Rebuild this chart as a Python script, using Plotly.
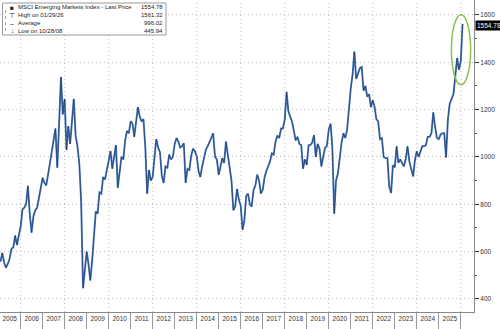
import pandas as pd
import plotly.graph_objects as go

# MSCI Emerging Markets Index, monthly closes (Jan 2005 - Dec 2025)
y2005 = [558, 595, 555, 532, 548, 570, 612, 618, 668, 628, 668, 706]
y2006 = [780, 785, 800, 878, 760, 680, 750, 775, 785, 830, 870, 912]
y2007 = [890, 880, 925, 975, 1015, 1060, 1120, 955, 1180, 1338, 1180, 1245]
y2008 = [1030, 1130, 1055, 1170, 1245, 1090, 1045, 970, 810, 445.94, 540, 600]
y2009 = [545, 478, 560, 650, 770, 760, 850, 845, 915, 905, 950, 990]
y2010 = [1025, 950, 1010, 1050, 870, 950, 1000, 990, 1070, 1110, 1100, 1151]
y2011 = [1140, 1085, 1160, 1210, 1170, 1150, 1160, 1040, 845, 945, 900, 916]
y2012 = [1000, 1075, 1040, 1020, 920, 890, 960, 955, 1010, 990, 1000, 1055]
y2013 = [1080, 1065, 1040, 1045, 1058, 890, 950, 945, 1005, 1035, 1025, 1003]
y2014 = [940, 915, 960, 990, 1030, 1045, 1065, 1085, 1100, 1000, 990, 925]
y2015 = [970, 995, 975, 1065, 1010, 965, 900, 775, 790, 865, 820, 794]
y2016 = [692, 730, 835, 845, 800, 790, 860, 880, 925, 900, 845, 862]
y2017 = [915, 940, 960, 980, 1015, 1010, 1065, 1090, 1080, 1120, 1120, 1158]
y2018 = [1275, 1195, 1170, 1150, 1110, 1070, 1085, 1055, 1050, 950, 990, 966]
y2019 = [1050, 1050, 1060, 1092, 1000, 1055, 1035, 960, 1000, 1040, 1045, 1115]
y2020 = [1140, 1040, 760, 900, 930, 1000, 1060, 1100, 1080, 1115, 1205, 1291]
y2021 = [1350, 1445, 1330, 1350, 1375, 1380, 1280, 1300, 1255, 1265, 1210, 1240]
y2022 = [1210, 1160, 1150, 1075, 1080, 1000, 995, 995, 875, 848, 965, 956]
y2023 = [1045, 975, 990, 975, 960, 990, 1045, 980, 950, 918, 985, 1024]
y2024 = [1000, 1020, 1045, 1045, 1050, 1085, 1085, 1100, 1188, 1125, 1080, 1075]
y2025 = [1095, 1100, 1100, 998, 1160, 1225, 1245, 1265, 1340, 1418, 1368, 1405]

# Final sessions of January 2026 (high, then last price)
jan2026_dates = ["2026-01-29", "2026-01-30"]
jan2026_values = [1561.32, 1554.78]

legend_labels = [
    "MSCI Emerging Markets Index - Last Price",
    "High on 01/29/26",
    "Average",
    "Low on 10/28/08",
]
legend_values = ["1554.78", "1561.32", "996.02", "445.94"]
legend_icons = ["■", "⊤", "–", "↓"]

label_years = list(range(2005, 2026))
y_ticks = [400, 600, 800, 1000, 1200, 1400, 1600]
y_minor = [500, 700, 900, 1100, 1300, 1500]

monthly = (y2005 + y2006 + y2007 + y2008 + y2009 + y2010 + y2011 + y2012
           + y2013 + y2014 + y2015 + y2016 + y2017 + y2018 + y2019 + y2020
           + y2021 + y2022 + y2023 + y2024 + y2025)
dates = list(pd.date_range("2005-01-31", periods=len(monthly), freq="ME"))
dates += list(pd.to_datetime(jan2026_dates))
values = monthly + jan2026_values

fig = go.Figure()
# soft blue under-stroke gives the line its two-tone look
fig.add_trace(go.Scatter(x=dates, y=values, mode="lines",
                         line=dict(color="#4a7ec4", width=1.9),
                         hoverinfo="skip", showlegend=False))
fig.add_trace(go.Scatter(x=dates, y=values, mode="lines",
                         line=dict(color="#1a2744", width=0.55),
                         showlegend=False))

grid = "#bdbdbd"
dots = "1px,3px"
year_starts = [f"{y}-01-01" for y in range(2005, 2027)]
fig.update_layout(
    width=500, height=329,
    margin=dict(l=0, r=26, t=0, b=17),
    paper_bgcolor="white", plot_bgcolor="white",
    font=dict(family="Liberation Sans", size=6.5, color="#333"),
    xaxis=dict(
        range=["2005-01-22", "2026-08-07"],
        # year names sit mid-year; separators are the minor ticks at Jan 1
        tickmode="array",
        tickvals=[f"{y}-07-02" for y in label_years],
        ticktext=[str(y) for y in label_years],
        ticks="", showgrid=False,
        showline=True, linecolor="#888", linewidth=1,
        zeroline=False,
        minor=dict(tickvals=year_starts, ticks="outside", ticklen=17,
                   tickcolor="#999", tickwidth=1, showgrid=False),
        tickfont=dict(size=6.5, color="#333"),
    ),
    yaxis=dict(
        side="right",
        range=[345, 1663],
        tickmode="array",
        tickvals=y_ticks,
        ticks="outside", ticklen=4, tickcolor="#333", tickwidth=1,
        showgrid=True, gridcolor=grid, griddash=dots, gridwidth=1,
        showline=True, linecolor="#888", linewidth=1,
        zeroline=False,
        minor=dict(tickvals=y_minor, ticks="outside", ticklen=2,
                   tickcolor="#555"),
        tickfont=dict(size=6.5, color="#333"),
    ),
)

# dotted vertical grid every other year
for d in year_starts[1::2]:
    fig.add_shape(type="line", xref="x", yref="paper", x0=d, x1=d, y0=0, y1=1,
                  line=dict(color=grid, width=1, dash=dots), layer="below")

# ring around the January 2026 surge
fig.add_shape(type="circle", xref="x", yref="y",
              x0="2025-07-28", x1="2026-06-12", y0=1305, y1=1601,
              line=dict(color="#8cc152", width=1.5))

# last price tag on the right axis
fig.add_annotation(xref="paper", x=1, xanchor="left", xshift=1,
                   yref="y", y=jan2026_values[-1],
                   text=legend_values[0], showarrow=False,
                   bgcolor="black", font=dict(color="white", size=6.5),
                   borderpad=1)

# legend box
PW, PH = 474, 312
fig.add_shape(type="rect", xref="paper", yref="paper",
              x0=2.5 / PW, x1=166 / PW, y0=1 - 35 / PH, y1=1 - 3 / PH,
              line=dict(color="#999", width=1), fillcolor="white")
# dotted tree connecting the legend rows
fig.add_shape(type="line", xref="paper", yref="paper",
              x0=5.5 / PW, x1=5.5 / PW, y0=1 - 31 / PH, y1=1 - 8 / PH,
              line=dict(color="#aaa", width=1, dash="dot"))
row_y = [7.3, 15.2, 23.2, 31.0]
for icon, lab, val, ypx in zip(legend_icons, legend_labels, legend_values, row_y):
    yp = 1 - ypx / PH
    fig.add_annotation(xref="paper", yref="paper", x=12 / PW, y=yp,
                       xanchor="center", yanchor="middle", showarrow=False,
                       text=icon, font=dict(size=6.5, color="#222"))
    fig.add_annotation(xref="paper", yref="paper", x=17 / PW, y=yp,
                       xanchor="left", yanchor="middle", showarrow=False,
                       text=lab, font=dict(size=6.0, color="#222"),
                       borderpad=0)
    fig.add_annotation(xref="paper", yref="paper", x=164 / PW, y=yp,
                       xanchor="right", yanchor="middle", showarrow=False,
                       text=val, font=dict(size=6.0, color="#222"),
                       borderpad=0)

fig.write_html("out.html")
